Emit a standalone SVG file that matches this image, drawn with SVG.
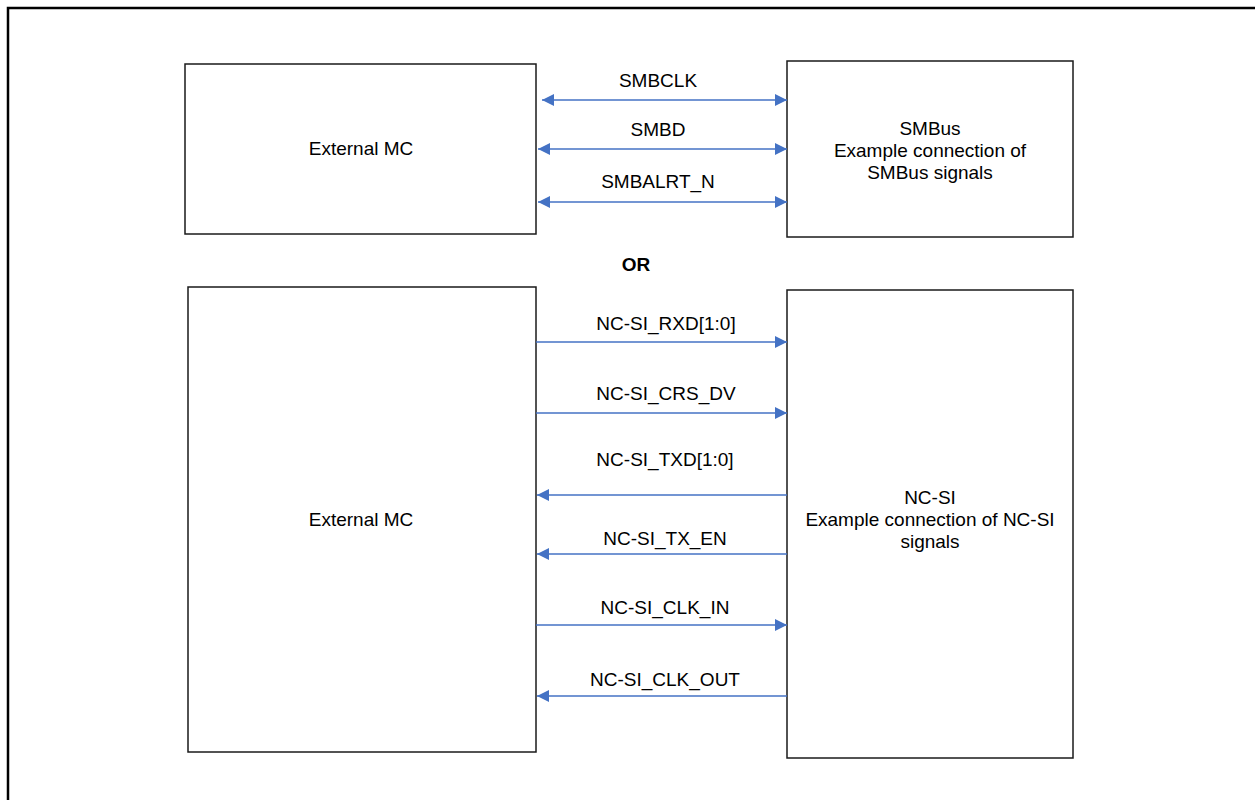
<svg xmlns="http://www.w3.org/2000/svg" width="1255" height="800" viewBox="0 0 1255 800">
<style>
.box{fill:#fff;stroke:#1a1a1a;stroke-width:1.5}
.t{font-family:"Liberation Sans",Arial,sans-serif;font-size:19px;fill:#000;text-anchor:middle}
.b{font-weight:bold}
.c{stroke:#4472C4;stroke-width:1.5;fill:none}
</style>
<defs>
<marker id="ah" viewBox="0 0 12 12" refX="12" refY="6" markerWidth="12" markerHeight="12" markerUnits="userSpaceOnUse" orient="auto-start-reverse">
<path d="M0,0 L12,6 L0,12 z" fill="#4472C4"/>
</marker>
</defs>
<rect width="1255" height="800" fill="#fff"/>
<path d="M8,800 V8 H1255" fill="none" stroke="#000" stroke-width="2.5"/>
<g id="mc-top">
<rect class="box" x="185" y="64" width="351" height="170"/>
<text class="t" x="361" y="155">External MC</text>
</g>
<g id="smbus">
<rect class="box" x="787" y="61" width="286" height="176"/>
<text class="t" x="930" y="135">SMBus</text>
<text class="t" x="930" y="157">Example connection of</text>
<text class="t" x="930" y="179">SMBus signals</text>
</g>
<g id="or">
<text class="t b" x="636" y="271">OR</text>
</g>
<g id="mc-bottom">
<rect class="box" x="188" y="287" width="348" height="465"/>
<text class="t" x="361" y="526">External MC</text>
</g>
<g id="ncsi">
<rect class="box" x="787" y="290" width="286" height="468"/>
<text class="t" x="930" y="504">NC-SI</text>
<text class="t" x="930" y="526">Example connection of NC-SI</text>
<text class="t" x="930" y="548">signals</text>
</g>
<g id="connectors">
<line class="c" x1="542" y1="100" x2="787" y2="100" marker-start="url(#ah)" marker-end="url(#ah)"/>
<line class="c" x1="538" y1="149" x2="787" y2="149" marker-start="url(#ah)" marker-end="url(#ah)"/>
<line class="c" x1="538" y1="202" x2="787" y2="202" marker-start="url(#ah)" marker-end="url(#ah)"/>
<line class="c" x1="536" y1="342" x2="787" y2="342" marker-end="url(#ah)"/>
<line class="c" x1="536" y1="413" x2="787" y2="413" marker-end="url(#ah)"/>
<line class="c" x1="787" y1="495" x2="537" y2="495" marker-end="url(#ah)"/>
<line class="c" x1="787" y1="554" x2="537" y2="554" marker-end="url(#ah)"/>
<line class="c" x1="536" y1="625" x2="787" y2="625" marker-end="url(#ah)"/>
<line class="c" x1="787" y1="696" x2="537" y2="696" marker-end="url(#ah)"/>
</g>
<g id="labels">
<text class="t" x="658" y="87">SMBCLK</text>
<text class="t" x="658" y="136">SMBD</text>
<text class="t" x="658" y="188">SMBALRT_N</text>
<text class="t" x="666" y="330">NC-SI_RXD[1:0]</text>
<text class="t" x="666" y="400">NC-SI_CRS_DV</text>
<text class="t" x="665" y="466">NC-SI_TXD[1:0]</text>
<text class="t" x="665" y="545">NC-SI_TX_EN</text>
<text class="t" x="665" y="614">NC-SI_CLK_IN</text>
<text class="t" x="665" y="686">NC-SI_CLK_OUT</text>
</g>
</svg>
